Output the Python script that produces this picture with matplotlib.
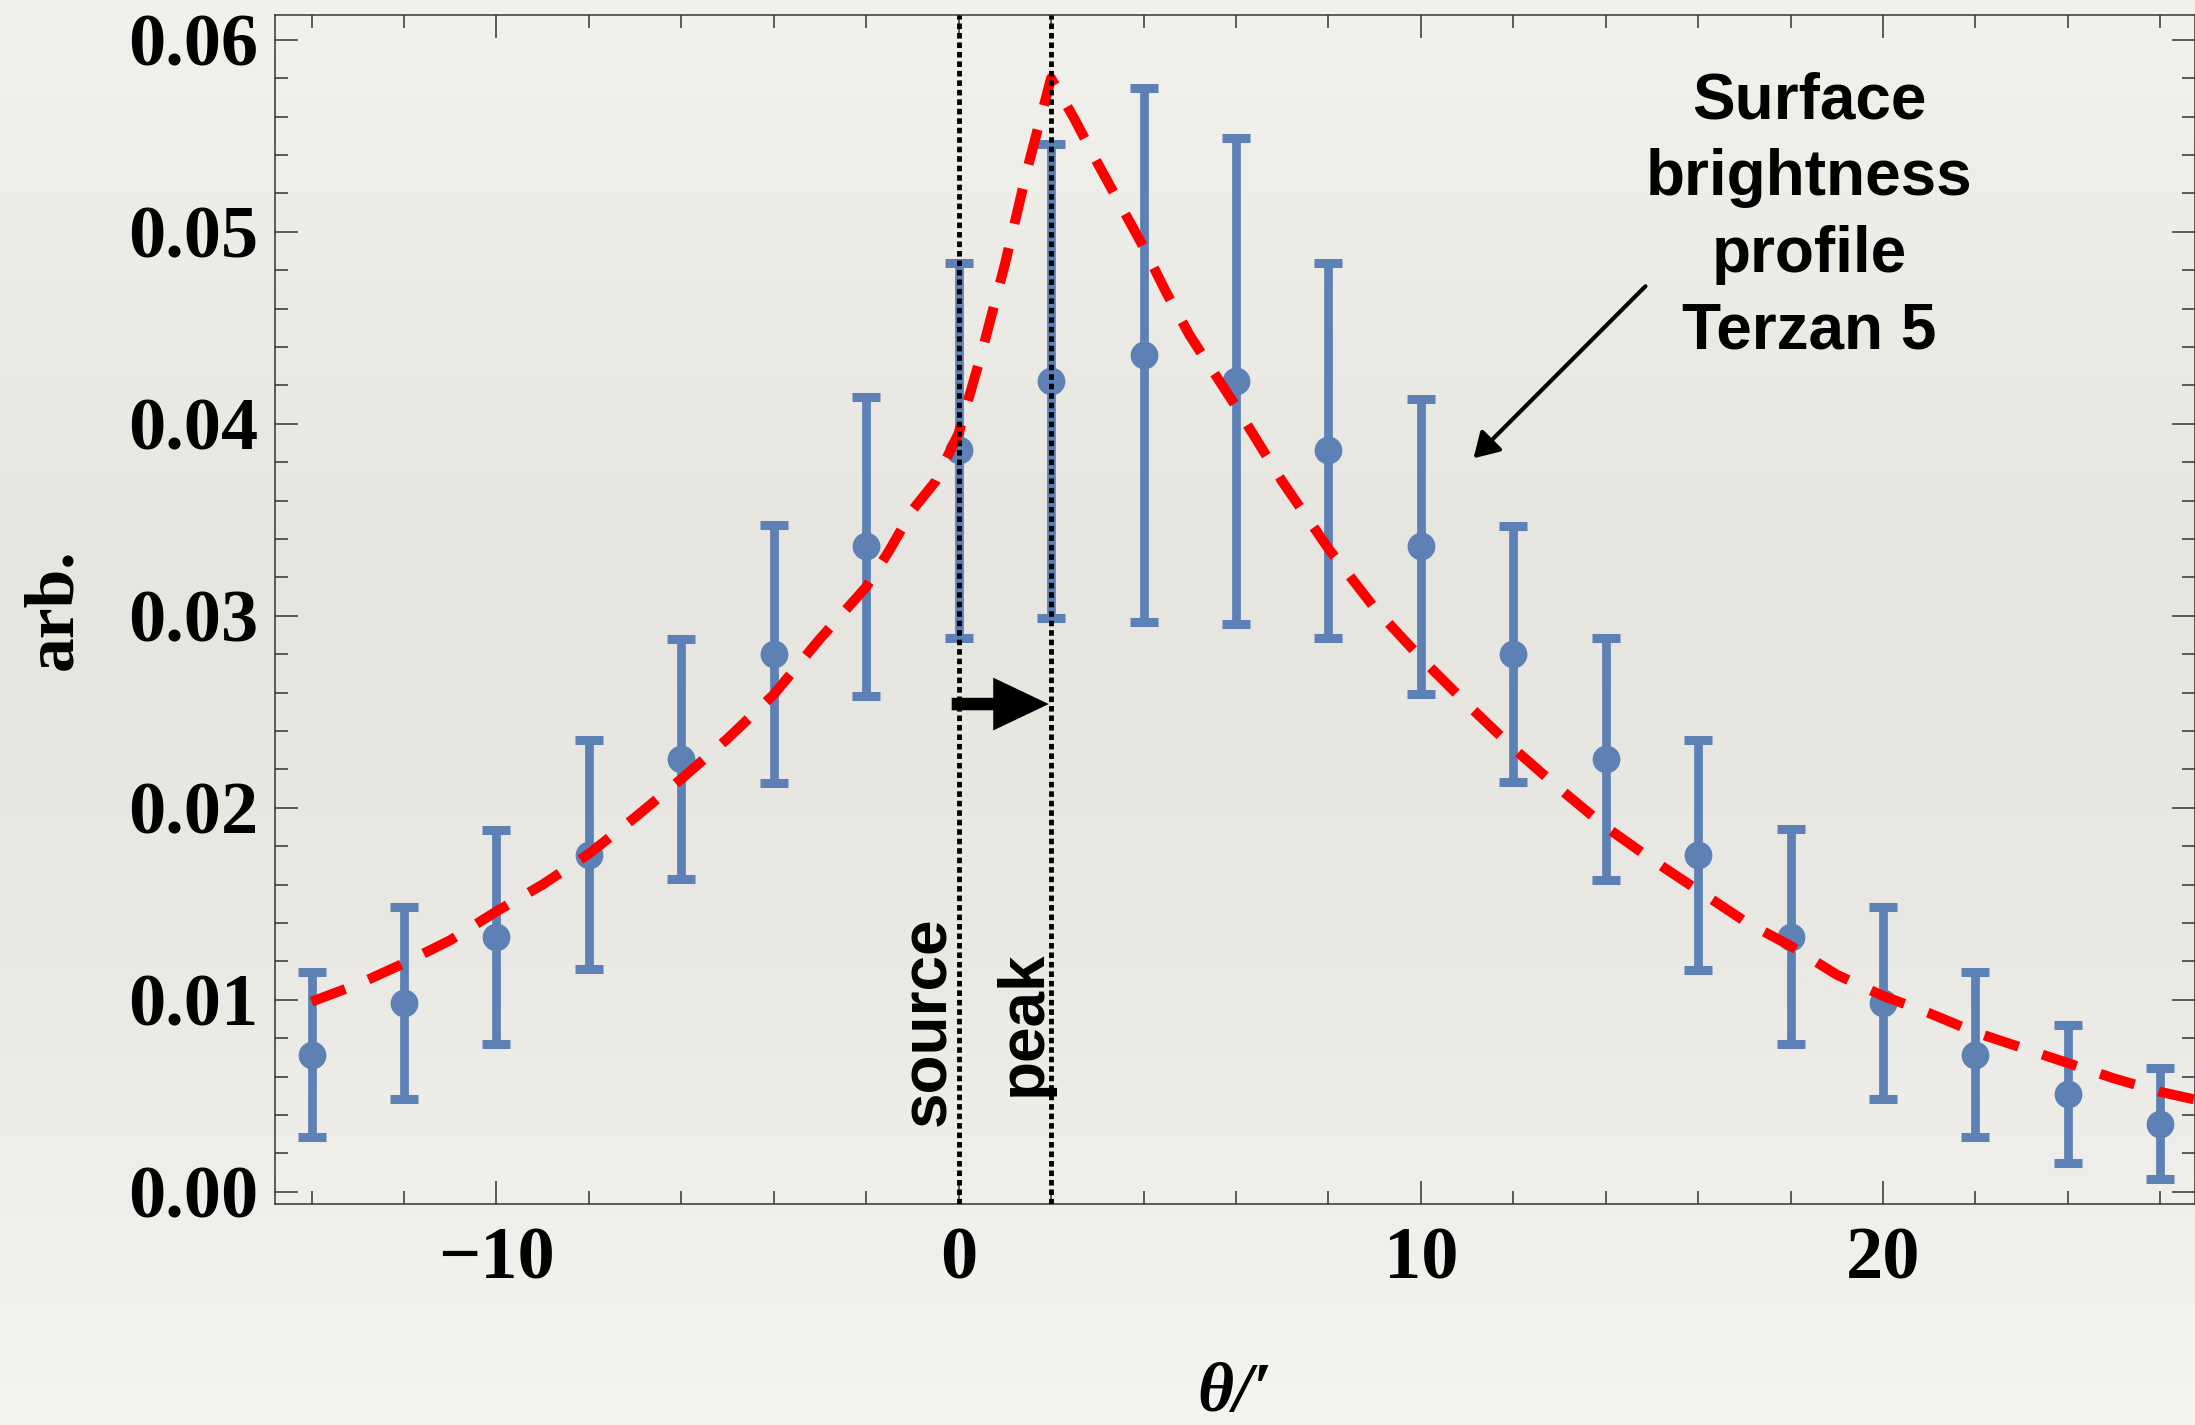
import numpy as np
import matplotlib.pyplot as plt
from matplotlib.patches import FancyArrowPatch
from matplotlib.ticker import MultipleLocator, FormatStrFormatter

# binned surface brightness, angular offset in arcmin
theta = [-14, -12, -10, -8, -6, -4, -2, 0, 2, 4, 6, 8, 10, 12, 14, 16, 18, 20, 22, 24, 26]
flux = [0.00714, 0.00983, 0.01328, 0.01755, 0.02252, 0.02801, 0.03361, 0.03861,
        0.04222, 0.04357, 0.04222, 0.03861, 0.03361, 0.02801, 0.02252, 0.01755,
        0.01328, 0.00983, 0.00714, 0.00507, 0.00355]
flux_err = [0.00428, 0.00500, 0.00558, 0.00597, 0.00625, 0.00670, 0.00780, 0.00977,
            0.01234, 0.01390, 0.01266, 0.00977, 0.00770, 0.00666, 0.00630, 0.00600,
            0.00560, 0.00500, 0.00430, 0.00359, 0.00290]

# Terzan 5 profile, centred on the shifted peak
fit_theta = [-14, -13, -12, -11, -10, -9, -8, -7, -6, -5, -4, -3, -2, -1.5, -1, -0.5,
             0, 0.5, 1, 1.5, 2, 2.5, 3, 3.5, 4, 4.5, 5, 6, 7, 8, 9, 10, 11, 12, 13,
             14, 15, 16, 17, 18, 19, 20, 21, 22, 23, 24, 25, 26, 26.75]
fit_val = [0.0099, 0.0108, 0.0119, 0.0131, 0.0146, 0.0160, 0.0176, 0.0195, 0.0215,
           0.0236, 0.0259, 0.0288, 0.0315, 0.0334, 0.0355, 0.0370, 0.0395, 0.0437,
           0.0483, 0.0534, 0.0580, 0.0559, 0.0536, 0.0514, 0.0492, 0.0468, 0.0446,
           0.0409, 0.0370, 0.0335, 0.0304, 0.0278, 0.0254, 0.0231, 0.0210, 0.0190,
           0.0173, 0.0157, 0.0141, 0.0128, 0.0113, 0.0102, 0.0093, 0.0083, 0.0075,
           0.0067, 0.0059, 0.0052, 0.0048]

source_pos = 0
peak_pos = 2

plt.rcParams['font.family'] = ['Liberation Serif', 'DejaVu Serif']
plt.rcParams['font.weight'] = 'bold'
sans = ['Liberation Sans', 'DejaVu Sans']

fig = plt.figure(figsize=(21.95, 14.25), dpi=100)

# paper-like backdrop: light at top and bottom, a bit greyer in the middle
bg = fig.add_axes([0, 0, 1, 1], zorder=-10)
rows = np.linspace(0, 1, 400)
stop_pos = [0.0, 0.4, 0.65, 1.0]
stop_rgb = np.array([[243, 241, 236], [231, 229, 224], [234, 232, 227], [246, 244, 240]]) / 255
grad = np.stack([np.interp(rows, stop_pos, stop_rgb[:, k]) for k in range(3)], axis=-1)
bg.imshow(grad[:, None, :], aspect='auto', extent=[0, 1, 0, 1])
bg.axis('off')

ax = fig.add_axes([274.6 / 2195, 1 - 1204 / 1425, 1 - 274.6 / 2195, 1189 / 1425])
ax.set_facecolor('none')

ax.errorbar(theta, flux, yerr=flux_err, fmt='o', color='#5e81b5', ms=19,
            elinewidth=6.3, capsize=10, capthick=6.5, zorder=2)
ax.plot(fit_theta, fit_val, color='red', lw=7.2, dashes=(3.6, 2.5),
        dash_capstyle='butt', zorder=3)

for xv in (source_pos, peak_pos):
    ax.axvline(xv, color='black', lw=3.5, dashes=(1.15, 0.8), zorder=4)

shift = FancyArrowPatch((source_pos - 0.15, 0.0254), (peak_pos - 0.05, 0.0254),
                        arrowstyle='simple,head_length=40,head_width=38,tail_width=9',
                        mutation_scale=1, color='black', lw=0, shrinkA=0, shrinkB=0,
                        zorder=5)
ax.add_patch(shift)

ax.text(source_pos, 0.0034, 'source', rotation=90, ha='right', va='bottom',
        family=sans, weight='bold', fontsize=46)
ax.text(peak_pos + 0.05, 0.0050, 'peak', rotation=90, ha='right', va='bottom',
        family=sans, weight='bold', fontsize=46)

ax.text(18.4, 0.0508, 'Surface\nbrightness\nprofile\nTerzan 5', ha='center', va='center',
        multialignment='center', family=sans, weight='bold', fontsize=46, linespacing=1.35)
ax.annotate('', xy=(11.14, 0.0382), xytext=(14.86, 0.04716),
            arrowprops=dict(arrowstyle='-|>,head_length=0.6,head_width=0.36', color='black',
                            lw=3, mutation_scale=25, shrinkA=0, shrinkB=0))

ax.set_xlim(-14.8, 26.75)
ax.set_ylim(-0.00064, 0.06129)
ax.xaxis.set_major_locator(MultipleLocator(10))
ax.xaxis.set_minor_locator(MultipleLocator(2))
ax.yaxis.set_major_locator(MultipleLocator(0.01))
ax.yaxis.set_minor_locator(MultipleLocator(0.002))
ax.yaxis.set_major_formatter(FormatStrFormatter('%.2f'))

ax.tick_params(which='both', direction='in', top=True, right=True,
               color='#333333', width=1.1, labelsize=53.5)
ax.tick_params(which='major', length=16.5)
ax.tick_params(which='minor', length=9.4)
ax.tick_params(axis='y', pad=12)
ax.tick_params(axis='x', pad=16)
for sp in ax.spines.values():
    sp.set_color('#333333')
    sp.set_linewidth(1.1)

ax.set_xlabel('θ/′', fontsize=50, style='italic', weight='bold')
ax.xaxis.set_label_coords(0.5, -0.133)
ax.set_ylabel('arb.', fontsize=50, weight='bold')
ax.yaxis.set_label_coords(-0.098, 0.5)

fig.savefig('out.png', dpi=100)
